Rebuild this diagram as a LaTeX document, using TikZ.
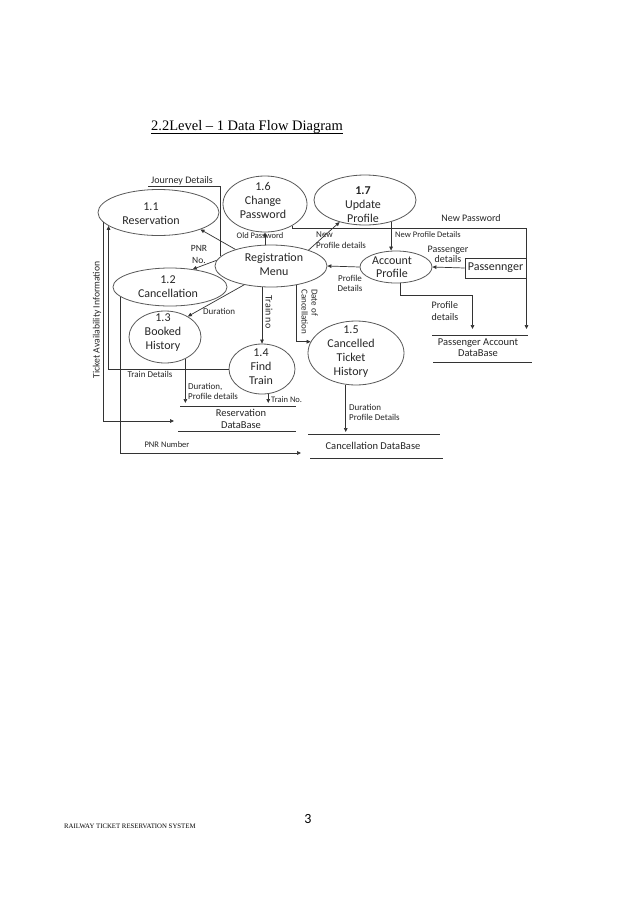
\documentclass[tikz,border=0pt]{standalone}
\usepackage{fontspec}
\setmainfont{Carlito}
\newfontfamily\timesf{Liberation Serif}
\usetikzlibrary{shapes.geometric,arrows.meta}
\definecolor{txtc}{gray}{0.15}
\definecolor{linec}{gray}{0.2}
\definecolor{ellc}{gray}{0.35}
\begin{document}
\begin{tikzpicture}[x=1pt,y=-1pt,
  proc/.style={ellipse, draw=ellc, line width=0.8pt, inner sep=0pt},
  ptxt/.style={font=\fontsize{12}{14}\selectfont, align=center, text=txtc, inner sep=0pt},
  stxt/.style={font=\fontsize{10.5}{12}\selectfont, align=center, text=txtc, inner sep=0pt},
  lbl/.style={font=\fontsize{9}{10}\selectfont, text=txtc, inner sep=0pt},
  arr/.style={draw=linec, line width=0.7pt, -{Triangle[length=4pt,width=3.6pt]}},
  ln/.style={draw=linec, line width=0.7pt},
  store/.style={draw=linec, line width=0.8pt}]
\fill[white] (0,0) rectangle (638,903);
\useasboundingbox (0,0) rectangle (638,903);

% title and footer
\node[anchor=base west, inner sep=0pt, font=\timesf\fontsize{14.5}{16}\selectfont] (title) at (151,130.5) {2.2Level – 1 Data Flow Diagram};
\draw[line width=0.6pt] ([yshift=-2.5pt]title.base west) -- ([yshift=-2.5pt]title.base east);
\node[anchor=west, inner sep=0pt, font=\timesf\fontsize{6.8}{8}\selectfont] (foot) at (64,826) {RAILWAY TICKET RESERVATION SYSTEM};
\node[inner sep=0pt, font=\fontsize{14}{16}\selectfont] (pg) at (308,819) {3};

% processes
\node[proc, minimum width=121pt, minimum height=46pt] (p11) at (158.5,212.5) {};
\node[ptxt] (t11) at (151,214) {1.1\\Reservation};
\node[proc, minimum width=84pt, minimum height=56pt] (p16) at (265,204) {};
\node[ptxt] (t16) at (263,200.5) {1.6\\Change\\Password};
\node[proc, minimum width=102pt, minimum height=50pt] (p17) at (365,200) {};
\node[ptxt] (t17) at (363,205) {\textbf{1.7}\\Update\\Profile};
\node[proc, minimum width=112pt, minimum height=42pt] (reg) at (271,266) {};
\node[ptxt] (treg) at (274,264) {Registration\\Menu};
\node[proc, minimum width=72pt, minimum height=32pt] (acc) at (396,267) {};
\node[ptxt, font=\fontsize{12}{13}\selectfont] (tacc) at (392,267) {Account\\Profile};
\node[draw=linec, line width=0.8pt, minimum width=61pt, minimum height=20pt, inner sep=0pt, text=txtc, font=\fontsize{12}{14}\selectfont] (pass) at (495.5,268) {Passennger};
\node[proc, minimum width=114pt, minimum height=38pt] (p12) at (170,287) {};
\node[ptxt] (t12) at (168,287) {1.2\\Cancellation};
\node[proc, minimum width=72pt, minimum height=52pt] (p13) at (165,337) {};
\node[ptxt] (t13) at (163,333) {1.3\\Booked\\History};
\node[proc, minimum width=66pt, minimum height=50pt] (p14) at (262,369) {};
\node[ptxt] (t14) at (261,367) {1.4\\Find\\Train};
\node[proc, minimum width=96pt, minimum height=64pt] (p15) at (356,353) {};
\node[ptxt] (t15) at (351,351.5) {1.5\\Cancelled\\Ticket\\History};

% data stores
\node[stxt, font=\fontsize{10.5}{11}\selectfont] (padb) at (478,348) {Passenger Account\\DataBase};
\draw[store] (432,335) -- (528,335);
\draw[store] (433,362) -- (532,362);
\node[stxt] (resdb) at (241,419) {Reservation\\DataBase};
\draw[store] (180,406) -- (296,406);
\draw[store] (178,431) -- (296,431);
\node[stxt] (candb) at (373,446) {Cancellation DataBase};
\draw[store] (308,434) -- (440,434);
\draw[store] (310,458) -- (443,458);

% helper coordinates
\coordinate (jd) at (148,186.5);
\coordinate (np1) at (526.5,228);
\coordinate (np2) at (526.5,329);
\coordinate (pd1) at (472.5,295);
\coordinate (pd2) at (472.5,329);
\coordinate (resArr) at (240,403);
\coordinate (canArr) at (373,432);
\coordinate (ta) at (174,421);
\coordinate (pn) at (301,453);

% connectors
\draw[ln] (reg.169) |- (jd);
\draw[arr] (reg.155) -- (p11.-22);
\draw[arr] (reg.174) -- (p12.38);
\draw[arr] (reg.215) -- (p13.42);
\draw[arr] (p16.south |- reg.north) -- (p16.south);
\draw[arr] (reg.23) -- (p17.221);
\draw[arr] (p16.-38) |- (np1) -- (np2);
\draw[arr] (p17.-40) -- (p17.-40 |- acc.north);
\draw[arr] (acc.west) -- (reg.east);
\draw[arr] (pass.west) -- (acc.east);
\draw[arr] (acc.-76) |- (pd1) -- (pd2);
\draw[arr] (p14.north |- reg.south) -- (p14.north);
\draw[arr] (reg.-37) |- (p15.166);
\draw[arr] (p13.-47) -- (p13.-47 |- resArr);
\draw[arr] (p14.-76) -- (p14.-76 |- resArr);
\draw[arr] (p15.-108) -- (p15.-108 |- canArr);
\draw[arr] (p14.west) -| (p11.195);
\draw[arr] (p11.190) |- (ta);
\draw[arr] (p12.191) |- (pn);

% labels
\node[lbl, font=\fontsize{10}{11}\selectfont] (ljd) at (182,181) {Journey Details};
\node[lbl, align=center, font=\fontsize{9.5}{12}\selectfont] (lpnr) at (199,254) {PNR\\No.};
\node[lbl, font=\fontsize{8.5}{10}\selectfont] (lop) at (260,236) {Old Password};
\node[lbl, align=left, anchor=west, font=\fontsize{9}{11}\selectfont] (lnpd) at (316,240.5) {New\\Profile details};
\node[lbl, font=\fontsize{10}{11}\selectfont] (lnp) at (471,218) {New Password};
\node[lbl, anchor=west, font=\fontsize{8.5}{10}\selectfont] (lnpD) at (395,235) {New Profile Details};
\node[lbl, align=center, font=\fontsize{10}{10}\selectfont] (lpas) at (448,254) {Passenger\\details};
\node[lbl, align=center, font=\fontsize{9}{10}\selectfont] (lprD) at (350,283) {Profile\\Details};
\node[lbl, align=left, font=\fontsize{10}{12}\selectfont] (lprd) at (445,311) {Profile\\details};
\node[lbl, anchor=west] (ldur) at (203,311) {Duration};
\node[lbl] (ltd) at (150,374) {Train Details};
\node[lbl, align=left, anchor=west, font=\fontsize{9}{10}\selectfont] (ldpd) at (188,391) {Duration,\\Profile details};
\node[lbl, anchor=west, font=\fontsize{8.5}{10}\selectfont] (ltrn) at (271,400) {Train No.};
\node[lbl, font=\fontsize{8.5}{10}\selectfont] (lpn) at (167,445) {PNR Number};
\node[lbl, align=left, anchor=west, font=\fontsize{9}{9.5}\selectfont] (ldpD) at (349,412.5) {Duration\\Profile Details};
\node[lbl, rotate=90, font=\fontsize{9.7}{11}\selectfont] (lta) at (97,320) {Ticket Availability Information};
\node[lbl, rotate=-90, font=\fontsize{10}{11}\selectfont] (ltn) at (269,312) {Train no};
\node[lbl, rotate=-90, align=left, anchor=north west, font=\fontsize{9}{10}\selectfont] (ldc) at (318,289) {Date of\\Cancellation};
\end{tikzpicture}
\end{document}
